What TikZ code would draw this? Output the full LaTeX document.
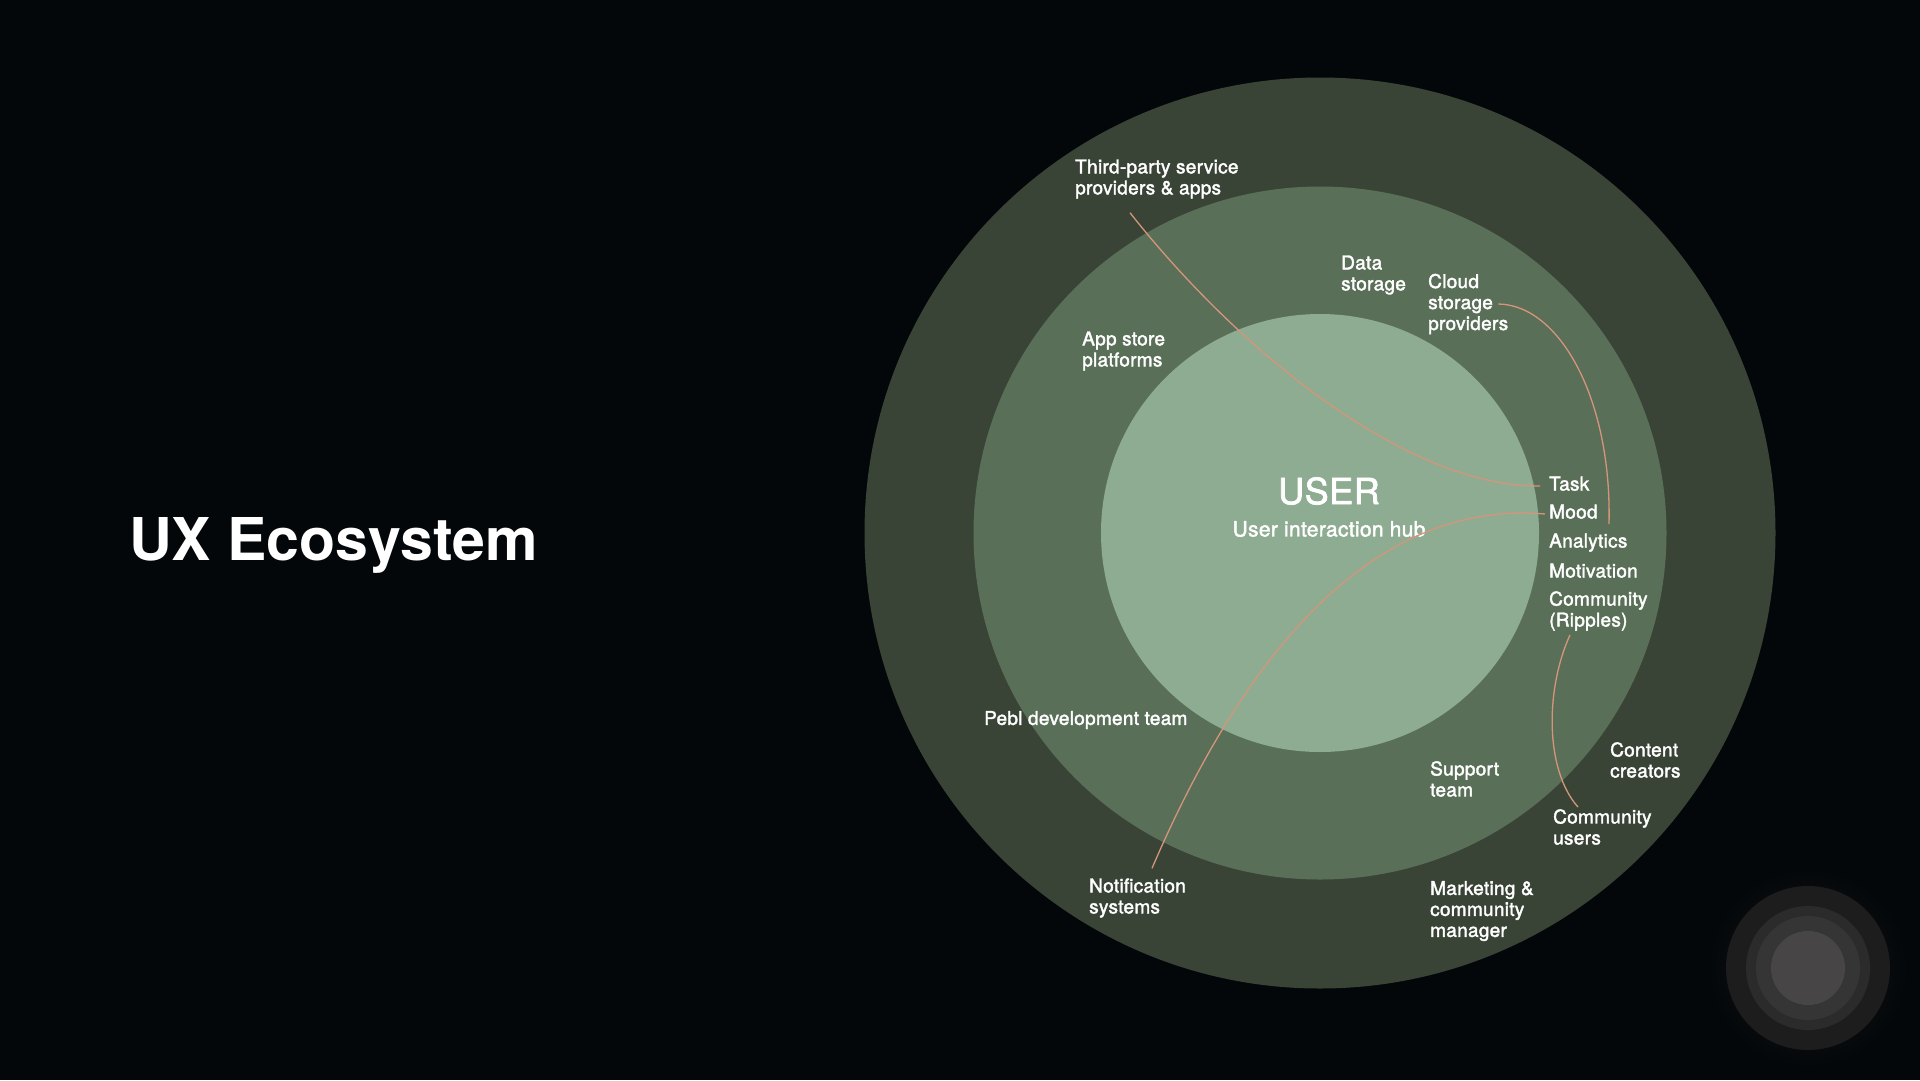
\documentclass[tikz,border=0pt]{standalone}
\usepackage{fontspec}
\setmainfont{TeX Gyre Heros}
\newfontfamily\lblfont[FakeBold=2,LetterSpace=1.5]{TeX Gyre Heros}
\definecolor{bgcol}{RGB}{3,7,9}
\definecolor{ringout}{RGB}{57,68,55}
\definecolor{ringmid}{RGB}{90,111,88}
\definecolor{ringin}{RGB}{142,172,145}
\definecolor{wirecol}{RGB}{212,150,122}
\definecolor{glowcol}{RGB}{26,25,25}
\definecolor{orbA}{RGB}{30,29,29}
\definecolor{orbB}{RGB}{44,43,43}
\definecolor{orbC}{RGB}{54,53,53}
\definecolor{orbD}{RGB}{71,69,69}

\begin{document}
\begin{tikzpicture}[x=1pt,y=-1pt,
	lbl/.style={text=white,font=\lblfont\fontsize{19}{21}\selectfont,align=left,anchor=west,inner sep=0pt},
	item/.style={lbl,text height=13pt,text depth=4pt},
	wire/.style={draw=wirecol,line width=1.3pt}]
\fill[bgcol] (0,0) rectangle (1920,1080);

% rings
\coordinate (hub) at (1320,533);
\fill[ringout] (hub) circle[radius=455.5pt];
\fill[ringmid] (hub) circle[radius=346.5pt];
\fill[ringin] (hub) circle[radius=219pt];

\node[text=white,font=\bfseries\fontsize{59}{66}\selectfont,anchor=west,inner sep=0pt] (title) at (129,545) {UX Ecosystem};

\node[text=white,font=\lblfont\fontsize{36}{40}\selectfont,inner sep=0pt] (user) at (1329,491) {USER};
\node[text=white,font=\lblfont\fontsize{21}{24}\selectfont,inner sep=0pt] (hubtxt) at (1329,529) {User interaction hub};

\node[lbl] (third) at (1075,179) {Third-party service\\providers \& apps};
\node[lbl] (data) at (1341,275) {Data\\storage};
\node[lbl] (cloud) at (1428,304) {Cloud\\storage\\providers};
\node[lbl] (appstore) at (1082,351) {App store\\platforms};
\foreach \nm/\txt/\yy in {task/Task/486,mood/Mood/514,analytics/Analytics/543,motivation/Motivation/573}
	\node[item] (\nm) at (1549,\yy) {\txt};
\node[lbl] (ripples) at (1549,611) {Community\\(Ripples)};
\node[lbl] (pebl) at (984,720) {Pebl development team};
\node[lbl] (support) at (1430,779) {Support\\team};
\node[lbl] (content) at (1610,760) {Content\\creators};
\node[lbl] (commusers) at (1553,827) {Community\\users};
\node[lbl] (notif) at (1089,898) {Notification\\systems};
\node[lbl] (marketing) at (1430,911) {Marketing \&\\community\\manager};

\coordinate (cloudend) at (1609,524);

\draw[wire] ([xshift=55pt,yshift=-14pt]third.south west) .. controls (1230,340) and (1400,487) .. ([xshift=-9pt]task.west);
\draw[wire] ([xshift=-10pt]cloud.east) .. controls (1560,305) and (1612,400) .. (cloudend);
\draw[wire] ([xshift=-4pt]mood.west) .. controls (1380,500) and (1250,640) .. ([xshift=63pt,yshift=10pt]notif.north west);
\draw[wire] ([xshift=21pt,yshift=-4pt]ripples.south west) .. controls (1545,690) and (1545,770) .. ([xshift=25pt,yshift=2pt]commusers.north west);

% glow in the corner
\coordinate (orb) at (1808,968);
\shade[inner color=glowcol,outer color=bgcol] (orb) circle[radius=100pt];
\foreach \rr/\cc in {82/orbA,62/orbB,52/orbC,37/orbD}
	\fill[\cc] (orb) circle[radius=\rr pt];
\end{tikzpicture}
\end{document}
